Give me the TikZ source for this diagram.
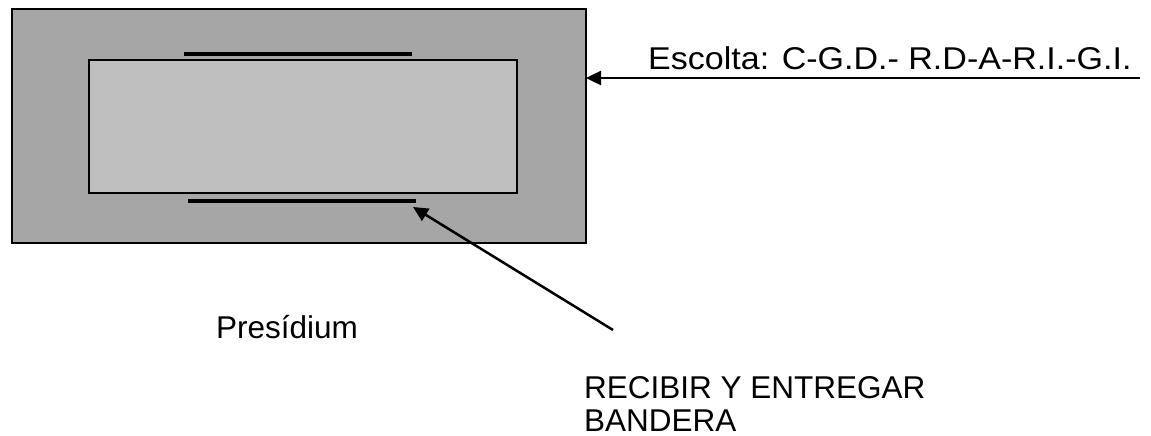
\documentclass[tikz,border=0pt]{standalone}
\usepackage{fontspec}
\setmainfont{Liberation Sans}
\usetikzlibrary{arrows.meta}
\definecolor{outergray}{RGB}{166,166,166}
\definecolor{innergray}{RGB}{191,191,191}
\begin{document}
\begin{tikzpicture}[x=1pt,y=-1pt,
  lbl/.style={inner sep=0pt,anchor=base west,font=\fontsize{31.5}{36}\selectfont},
  bar/.style={line width=3.2pt},
  box/.style={line width=2.4pt},
  arr/.style={line width=2.5pt,-{Triangle[length=15pt,width=14pt]}}]
\useasboundingbox (0,0) rectangle (1151,436);
\draw[box,fill=outergray] (12,9) rectangle (586,243);
\draw[box,fill=innergray] (89,60) rectangle (517,193);
\draw[bar] (184,54) -- (412,54);
\draw[bar] (188,201) -- (416,201);
\coordinate (outerE) at (586,78);
\coordinate (barS) at (413,207);
\node[lbl] (esc) at (648,70) {\scalebox{1.08}[1]{Escolta: C-G.D.- R.D-A-R.I.-G.I.}};
\coordinate (escS) at (1140,78);
\draw[arr] (escS) -- (outerE);
\node[lbl] (pres) at (216,338) {Presídium};
\coordinate (recN) at (613,330);
\draw[arr] (recN) -- (barS);
\node[lbl] (rec) at (584,398) {RECIBIR Y ENTREGAR};
\node[lbl] (ban) at (584,431) {BANDERA};
\end{tikzpicture}
\end{document}
